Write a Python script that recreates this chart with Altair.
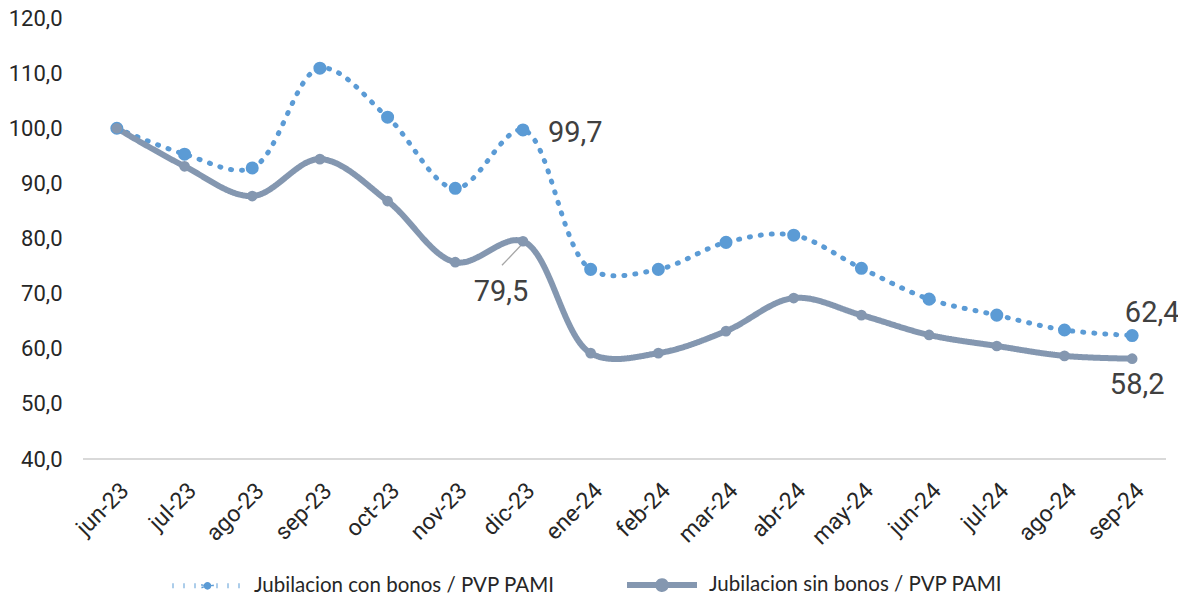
import altair as alt
import pandas as pd

months = ["jun-23", "jul-23", "ago-23", "sep-23", "oct-23", "nov-23", "dic-23", "ene-24",
          "feb-24", "mar-24", "abr-24", "may-24", "jun-24", "jul-24", "ago-24", "sep-24"]
con_bonos = [100.0, 95.3, 92.8, 110.9, 102.0, 89.1, 99.7, 74.4,
             74.4, 79.3, 80.6, 74.6, 69.0, 66.1, 63.4, 62.4]
sin_bonos = [100.0, 93.1, 87.7, 94.4, 86.8, 75.7, 79.5, 59.2,
             59.2, 63.2, 69.2, 66.1, 62.5, 60.5, 58.7, 58.2]
series_names = ["Jubilacion con bonos / PVP PAMI", "Jubilacion sin bonos / PVP PAMI"]
colors = ["#5B9BD5", "#8497B0"]

rows = []
for m, a, b in zip(months, con_bonos, sin_bonos):
    rows.append({"mes": m, "valor": a, "serie": series_names[0]})
    rows.append({"mes": m, "valor": b, "serie": series_names[1]})
df = pd.DataFrame(rows)
df["etiqueta"] = df["valor"].map(lambda v: f"{v:.1f}".replace(".", ","))

yscale = alt.Scale(domain=[40, 120], zero=False, nice=False)

x = alt.X("mes:N", sort=months, scale=alt.Scale(type="point", padding=0.5),
          axis=alt.Axis(title=None, labelAngle=-45, labelFontSize=23, labelFont="Roboto",
                        labelColor="#262626", labelPadding=20, ticks=False, domain=False,
                        grid=False))
y = alt.Y("valor:Q", scale=yscale,
          axis=alt.Axis(title=None, values=list(range(40, 121, 10)), labelFontSize=22,
                        labelFont="Roboto", labelColor="#262626", labelPadding=21,
                        labelExpr="replace(format(datum.value, '.1f'), '.', ',')",
                        ticks=False, domain=False, gridColor="#E8E8E8", gridWidth=1.3))

color = alt.Color("serie:N", scale=alt.Scale(domain=series_names, range=colors),
                  legend=alt.Legend(title=None, orient="none", direction="horizontal",
                                    legendX=87, legendY=529,
                                    symbolType="M-1,0H1M-0.11,0A0.11,0.11,0,1,1,0.11,0A0.11,0.11,0,1,1,-0.11,0Z",
                                    symbolSize=4900, symbolStrokeWidth=5,
                                    labelFont="Lato", labelFontSize=20.5,
                                    labelColor="#262626", labelLimit=500, columnPadding=60,
                                    labelOffset=9))
dash = alt.StrokeDash("serie:N", scale=alt.Scale(domain=series_names, range=[[1, 10], [1, 0]]),
                      legend=alt.Legend(title=None, orient="none"))

base = alt.Chart(df)

baseline = base.mark_rule(color="#D9D9D9", strokeWidth=1.5).encode(
    y=alt.Y(datum=40, scale=yscale), x=alt.value(0), x2=alt.value(1083))

lines = base.mark_line(interpolate="catmull-rom", strokeCap="round").encode(
    x=x, y=y, color=color, strokeDash=dash,
    strokeWidth=alt.StrokeWidth("serie:N", scale=alt.Scale(domain=series_names, range=[5, 6]), legend=None))

pts_a = base.transform_filter(alt.datum.serie == series_names[0]).mark_point(
    filled=True, opacity=1, size=170, shape="circle").encode(x=x, y=y, color=color)
pts_b = base.transform_filter(alt.datum.serie == series_names[1]).mark_point(
    filled=True, opacity=1, size=115, shape="circle").encode(x=x, y=y, color=color)

lab_style = dict(font="Roboto", fontSize=29, color="#404040", baseline="middle")

def label(serie, mes, **kw):
    st = dict(lab_style)
    st.update(kw)
    return base.transform_filter(
        (alt.datum.serie == serie) & (alt.datum.mes == mes)
    ).mark_text(**st).encode(x=x, y=y, text="etiqueta:N")

l1 = label(series_names[0], "dic-23", align="left", dx=25, dy=3)
l2 = label(series_names[1], "dic-23", align="center", dx=-22, dy=51)
l3 = label(series_names[0], "sep-24", align="center", dx=20, dy=-23)
l4 = label(series_names[1], "sep-24", align="center", dx=5, dy=26)

leader = base.transform_filter(
    (alt.datum.serie == series_names[1]) & (alt.datum.mes == "dic-23")
).mark_rule(color="#A6A6A6", strokeWidth=1.3, xOffset=-21, yOffset=24, x2Offset=0, y2Offset=2).encode(
    x=x, y=y, x2=alt.X2("mes:N"), y2=alt.Y2("valor:Q"))

chart = alt.layer(baseline, lines, leader, pts_a, pts_b, l1, l2, l3, l4).properties(
    width=1083, height=441,
    autosize=alt.AutoSizeParams(type="none"),
    padding={"left": 75, "top": 10, "right": 12, "bottom": 137},
).configure(background="white").configure_view(stroke=None)

chart.save("out.html", embed_options={"renderer": "svg", "actions": False})
